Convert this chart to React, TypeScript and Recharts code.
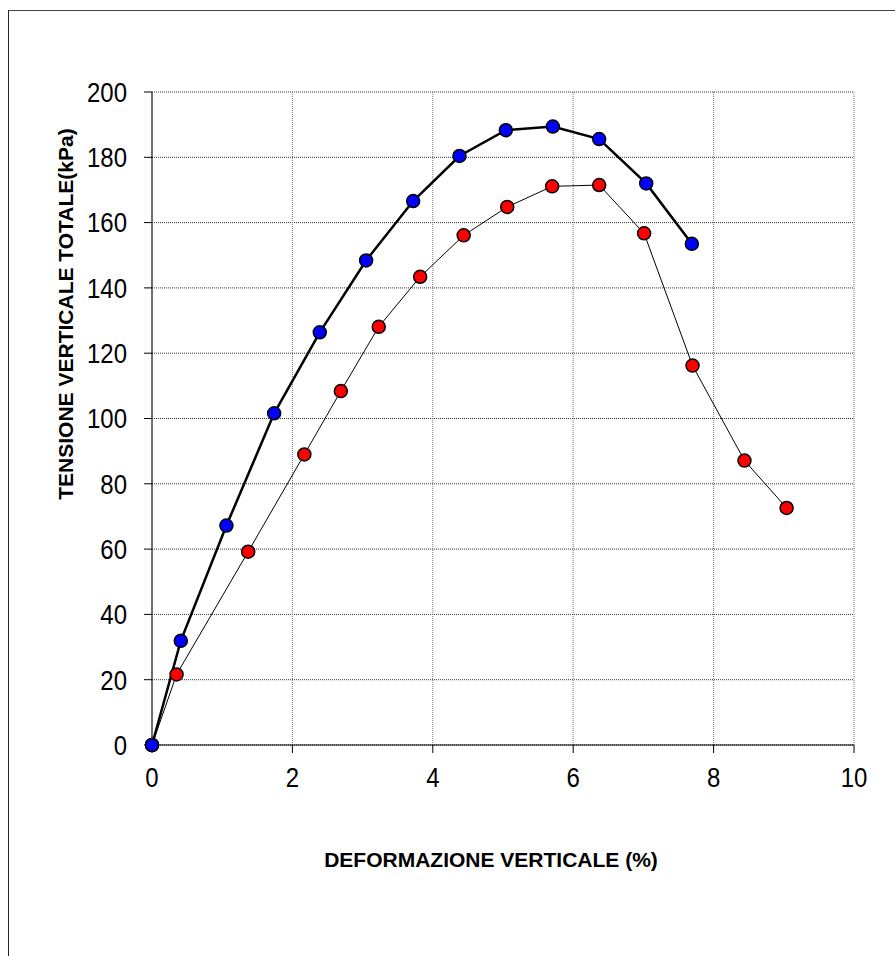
import React from "react";
import { LineChart, Line, XAxis, YAxis, CartesianGrid } from "recharts";

const blueX = [0, 0.41, 1.06, 1.74, 2.39, 3.05, 3.72, 4.38, 5.04, 5.71, 6.37, 7.04, 7.69];
const blueY = [0, 31.9, 67.2, 101.6, 126.4, 148.4, 166.6, 180.4, 188.3, 189.4, 185.6, 172.0, 153.5];
const redX = [0, 0.35, 1.37, 2.17, 2.69, 3.23, 3.82, 4.44, 5.06, 5.70, 6.37, 7.01, 7.70, 8.44, 9.04];
const redY = [0, 21.6, 59.2, 89.0, 108.4, 128.1, 143.4, 156.1, 164.8, 171.1, 171.5, 156.7, 116.2, 87.1, 72.6];
const xTicks = [0, 2, 4, 6, 8, 10];
const yTicks = [0, 20, 40, 60, 80, 100, 120, 140, 160, 180, 200];

const blueData = blueX.map((x, i) => ({ x, y: blueY[i] }));
const redData = redX.map((x, i) => ({ x, y: redY[i] }));

const FONT = "'Liberation Sans', Arial, Helvetica, sans-serif";
const TICK_SIZE = 24;
const TICK_SCALE = 1.15;

const XTick = (props: any) => {
  const { x, y, payload } = props;
  return (
    <g transform={`translate(${x} ${y}) scale(1 ${TICK_SCALE})`}>
      <text x={0} y={26} textAnchor="middle" fontSize={TICK_SIZE} fontFamily={FONT} fill="#000">
        {payload.value}
      </text>
    </g>
  );
};

const YTick = (props: any) => {
  const { x, y, payload } = props;
  return (
    <g transform={`translate(${x} ${y}) scale(1 ${TICK_SCALE})`}>
      <text x={0} y={0.716 * TICK_SIZE / 2} textAnchor="end" fontSize={TICK_SIZE} fontFamily={FONT} fill="#000">
        {payload.value}
      </text>
    </g>
  );
};

const XTitle = (props: any) => {
  const vb = props.viewBox || {};
  return (
    <text x={vb.x + vb.width / 2 - 12} y={vb.y + 122} textAnchor="middle" fontSize={21} fontWeight="bold" fontFamily={FONT} fill="#000">
      DEFORMAZIONE VERTICALE (%)
    </text>
  );
};

const YTitle = (props: any) => {
  const vb = props.viewBox || {};
  const cx = 73;
  const cy = vb.y + 222;
  return (
    <text x={cx} y={cy} transform={`rotate(-90 ${cx} ${cy})`} textAnchor="middle" fontSize={21} fontWeight="bold" fontFamily={FONT} fill="#000">
      TENSIONE VERTICALE TOTALE(kPa)
    </text>
  );
};

export default function App() {
  return (
    <div style={{ position: "absolute", left: 0, top: 0, width: 895, height: 956, overflow: "hidden", background: "#fff" }}>
      <div style={{ position: "absolute", left: 8, top: 10, width: 1000, height: 1000, borderLeft: "1px solid #222", borderTop: "1px solid #444" }} />
      <div style={{ position: "absolute", left: 0, top: 0 }}>
        <LineChart width={895} height={956} margin={{ top: 92, right: 41, bottom: 151, left: 0 }}>
          <CartesianGrid horizontal={true} vertical={false} stroke="#333" strokeDasharray="1 1" />
          <CartesianGrid horizontal={false} vertical={true} stroke="#777" strokeDasharray="1 1" />
          <XAxis
            type="number"
            dataKey="x"
            domain={[0, 10]}
            ticks={xTicks}
            height={60}
            tickSize={8}
            tickMargin={4}
            stroke="#000"
            axisLine={{ stroke: "#000", strokeWidth: 1 }}
            tickLine={{ stroke: "#000" }}
            tick={<XTick />}
            label={<XTitle />}
          />
          <YAxis
            type="number"
            dataKey="y"
            domain={[0, 200]}
            ticks={yTicks}
            width={152}
            tickSize={8}
            tickMargin={17}
            stroke="#000"
            axisLine={{ stroke: "#000", strokeWidth: 1 }}
            tickLine={{ stroke: "#000" }}
            tick={<YTick />}
            label={<YTitle />}
          />
          <Line
            data={redData}
            dataKey="y"
            type="linear"
            stroke="#000"
            strokeWidth={1}
            dot={{ r: 6.5, fill: "#FF0000", stroke: "#000", strokeWidth: 1.5, clipDot: false }}
            isAnimationActive={false}
          />
          <Line
            data={blueData}
            dataKey="y"
            type="linear"
            stroke="#000"
            strokeWidth={2.5}
            dot={{ r: 6.5, fill: "#0000FF", stroke: "#000", strokeWidth: 1.5, clipDot: false }}
            isAnimationActive={false}
          />
        </LineChart>
      </div>
    </div>
  );
}
